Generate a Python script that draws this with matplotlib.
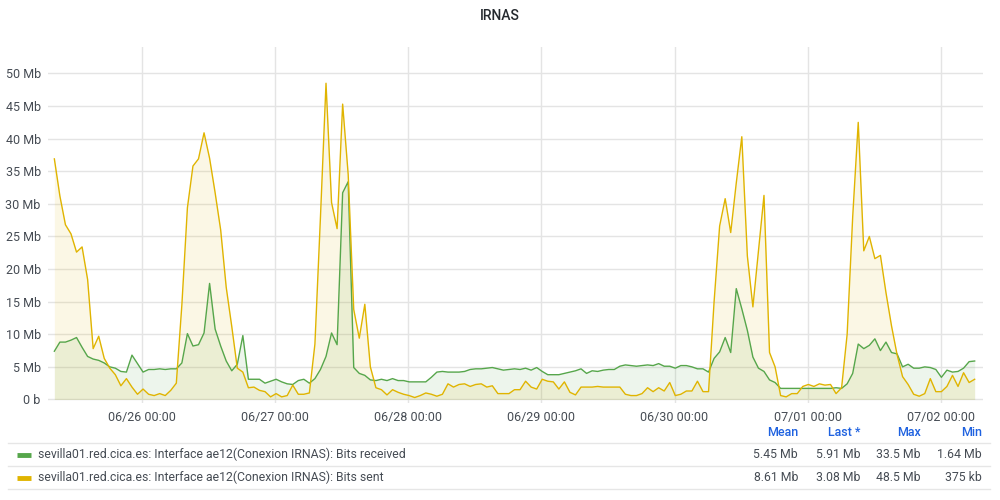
import datetime as dt
import pandas as pd
import matplotlib
matplotlib.use("Agg")
import matplotlib.pyplot as plt
import matplotlib.dates as mdates
from matplotlib.ticker import FuncFormatter

# hourly samples, Mb/s
received = [
    7.4, 8.8, 8.8, 9.1, 9.5, 8.0, 6.6, 6.2, 6.0, 5.6,
    5.0, 4.8, 4.3, 4.2, 6.8, 5.5, 4.2, 4.6, 4.6, 4.7,
    4.6, 4.7, 4.7, 5.6, 10.1, 8.2, 8.4, 10.2, 17.8, 10.8,
    8.2, 5.9, 4.4, 5.4, 9.8, 3.1, 3.1, 3.1, 2.5, 2.8,
    3.1, 2.7, 2.4, 2.3, 2.9, 3.1, 2.5, 3.2, 4.6, 6.6,
    10.2, 8.4, 31.7, 33.4, 4.9, 4.0, 3.7, 3.0, 2.9, 3.1,
    2.9, 3.2, 2.9, 2.9, 2.7, 2.7, 2.7, 2.7, 3.4, 4.2,
    4.3, 4.2, 4.2, 4.2, 4.3, 4.6, 4.7, 4.7, 4.8, 4.9,
    4.7, 4.5, 4.6, 4.7, 4.6, 4.8, 4.5, 4.9, 4.3, 3.8,
    3.8, 3.8, 4.0, 4.2, 4.4, 4.7, 4.0, 4.4, 4.3, 4.5,
    4.6, 4.6, 5.1, 5.3, 5.2, 5.1, 5.2, 5.3, 5.2, 5.5,
    5.1, 5.1, 4.8, 5.2, 5.2, 5.0, 4.7, 4.7, 4.2, 6.3,
    7.3, 9.5, 7.2, 17.0, 13.9, 10.6, 6.5, 4.8, 4.3, 3.0,
    2.6, 1.7, 1.7, 1.7, 1.7, 1.7, 1.7, 1.7, 1.7, 1.7,
    1.7, 1.8, 1.7, 2.4, 4.0, 8.5, 7.8, 8.3, 9.3, 7.5,
    8.8, 7.2, 7.0, 5.0, 5.4, 4.8, 4.8, 5.0, 4.9, 4.6,
    3.4, 4.5, 4.2, 4.3, 4.8, 5.8, 5.9,
]

sent = [
    36.9, 31.2, 26.8, 25.4, 22.6, 23.4, 18.4, 7.8, 9.7, 6.3,
    4.8, 3.8, 2.1, 3.2, 1.9, 0.8, 1.6, 0.8, 0.6, 0.9,
    0.6, 1.4, 2.5, 14.5, 29.4, 35.8, 36.9, 40.9, 37.0, 31.7,
    26.0, 17.2, 11.2, 4.8, 4.2, 1.8, 1.9, 1.4, 1.2, 0.4,
    0.9, 0.4, 0.6, 2.2, 0.8, 0.8, 1.0, 8.5, 28.0, 48.5,
    30.2, 26.2, 45.3, 34.5, 13.8, 9.4, 14.6, 5.0, 1.8, 1.5,
    0.7, 1.5, 1.1, 0.8, 0.6, 0.3, 0.6, 1.0, 0.8, 0.5,
    0.8, 2.4, 1.9, 2.3, 2.4, 2.0, 2.3, 2.4, 1.9, 2.1,
    0.9, 0.9, 0.9, 1.5, 1.5, 2.8, 1.9, 1.6, 3.1, 2.8,
    2.7, 1.6, 2.7, 1.1, 0.7, 1.9, 1.9, 1.9, 2.0, 1.9,
    1.9, 1.9, 1.9, 0.8, 0.6, 0.6, 0.9, 1.8, 1.2, 1.8,
    1.3, 2.6, 0.6, 0.8, 1.3, 1.3, 2.8, 1.2, 1.2, 15.0,
    26.6, 30.8, 25.6, 33.2, 40.3, 22.0, 14.2, 22.8, 31.3, 7.2,
    5.0, 0.6, 0.4, 0.9, 0.9, 2.0, 2.3, 2.0, 2.4, 2.2,
    2.3, 0.9, 1.8, 10.0, 28.0, 42.5, 22.8, 25.0, 21.6, 22.1,
    16.4, 11.3, 6.9, 3.5, 2.3, 0.8, 0.5, 0.9, 3.2, 1.2,
    1.2, 2.0, 3.7, 2.0, 4.1, 2.6, 3.1,
]

series_names = [
    "sevilla01.red.cica.es: Interface ae12(Conexion IRNAS): Bits received",
    "sevilla01.red.cica.es: Interface ae12(Conexion IRNAS): Bits sent",
]
stat_headers = ["Mean", "Last *", "Max", "Min"]
stats_received = ["5.45 Mb", "5.91 Mb", "33.5 Mb", "1.64 Mb"]
stats_sent = ["8.61 Mb", "3.08 Mb", "48.5 Mb", "375 kb"]

GREEN = "#56A64B"
YELLOW = "#E0B400"
TEXT = "#464C54"
GRID = "#E4E4E4"

plt.rcParams['font.family'] = ['Roboto', 'DejaVu Sans']

times = pd.date_range(dt.datetime(2023, 6, 25, 8, 8), periods=len(received), freq="h")

fig = plt.figure(figsize=(10, 5), dpi=100)
ax = fig.add_axes([0.0477, 0.194, 0.935, 0.712])

# area + line for both series
ax.fill_between(times, received, 0, color=GREEN, alpha=0.1, linewidth=0)
ax.fill_between(times, sent, 0, color=YELLOW, alpha=0.1, linewidth=0)
ax.plot(times, received, color=GREEN, linewidth=1)
ax.plot(times, sent, color=YELLOW, linewidth=1)

ax.set_xlim(dt.datetime(2023, 6, 25, 6, 56), dt.datetime(2023, 7, 2, 7, 35))
ax.set_ylim(-0.54, 54.06)

ax.set_yticks(range(0, 55, 5))
ax.yaxis.set_major_formatter(FuncFormatter(lambda v, p: "0 b" if v == 0 else "%d Mb" % v))
ax.xaxis.set_major_locator(mdates.DayLocator())
ax.xaxis.set_major_formatter(mdates.DateFormatter("%m/%d %H:%M"))

ax.grid(True, color=GRID, linewidth=1)
ax.set_axisbelow(True)
for s in ax.spines.values():
    s.set_visible(False)
ax.tick_params(length=0, labelsize=9, colors=TEXT, pad=5)
ax.tick_params(axis='x', pad=6)

fig.text(0.5, 0.967, "IRNAS", ha="center", va="center", fontsize=10,
         fontweight="medium", color="#24292E")

# legend table
col_right = [0.798, 0.860, 0.9205, 0.9817]
for x, h in zip(col_right, stat_headers):
    fig.text(x, 1 - 432 / 500, h, ha="right", va="center", fontsize=9,
             color="#1F62E0", fontweight="medium")

for yy in [443.3, 466, 489]:
    fig.add_artist(plt.Line2D([0.008, 0.99], [1 - yy / 500, 1 - yy / 500],
                              color="#E6E6E6", linewidth=1))

rows = [(454.7, GREEN, series_names[0], stats_received),
        (477.7, YELLOW, series_names[1], stats_sent)]
for yy, c, name, stats in rows:
    y = 1 - yy / 500
    fig.add_artist(plt.Line2D([0.0165, 0.0305], [y, y], color=c, linewidth=3.5,
                              solid_capstyle="butt"))
    fig.text(0.038, y, name, ha="left", va="center", fontsize=8.8, color=TEXT)
    for x, v in zip(col_right, stats):
        fig.text(x, y, v, ha="right", va="center", fontsize=8.8, color=TEXT)

fig.savefig("out.png", dpi=100)
